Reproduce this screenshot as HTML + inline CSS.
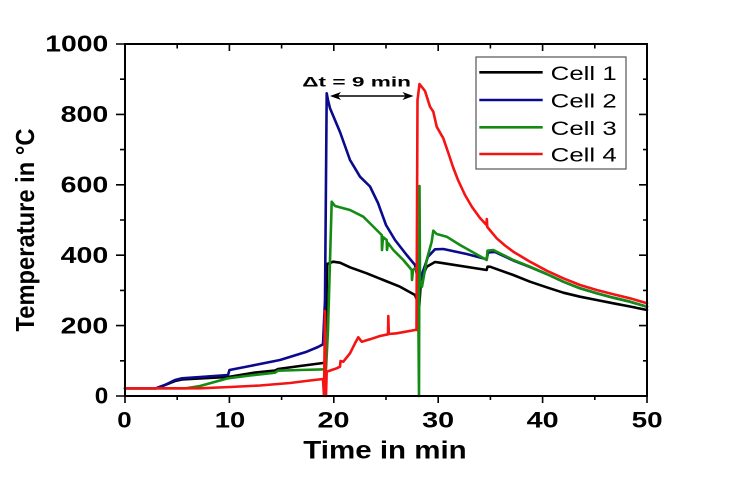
<!DOCTYPE html>
<html><head><meta charset="utf-8"><style>
html,body{margin:0;padding:0;background:#fff;}
svg{display:block;}
text{font-family:"Liberation Sans",Arial,sans-serif;}
</style></head><body>
<svg width="741" height="486" viewBox="0 0 741 486" xmlns="http://www.w3.org/2000/svg">
<rect width="741" height="486" fill="#fff"/>
<!-- series -->
<g fill="none" stroke-width="2.6" stroke-linejoin="round" stroke-linecap="round">
<path stroke="#000000" d="M125,388.3 L156,388.3 L165,385 L175,381 L182,379.5 L200,378.5 L228,377 L255,372.5 L275,370.5 L278,369 L300,366 L323,363 L325,363 L326,340 L327,264 L330,263 L333,261.7 L340,262.7 L350,267.3 L366.7,273.3 L383.3,280 L400,286.7 L415,295 L417,300 L419,310 L421,280 L426.7,266.7 L435,262 L440,262.7 L486.7,270 L487.5,266.7 L490,266.7 L513.3,275 L530,281.7 L546.7,287.3 L563.3,292.7 L580,296.7 L596.7,300 L613.3,303.3 L630,306.5 L647,310"/>
<path stroke="#0a0a8c" d="M125,388.3 L156,388.3 L165,385 L175,380 L182,378.3 L200,377 L228,375 L229.5,370 L250,366 L280,360 L306.7,351.7 L318,347 L323,344.3 L325,300 L326.7,93.3 L328,100 L330,108.3 L340,132 L350,160 L355,168.3 L360,176.7 L370,186.5 L378,203 L386,225 L395,240 L406.7,255 L415,265 L417,275 L419,290 L421.7,275 L428,256.7 L435,249.3 L443.3,249 L466.7,254 L486.7,259.3 L488,252.5 L495,252 L513.3,260.5 L530,267 L546.7,274 L563.3,281.7 L580,288.3 L596.7,293.3 L613.3,297.7 L630,301.7 L647,306.7"/>
<path stroke="#148c14" d="M125,388.3 L186,388.3 L200,386 L228,378.3 L250,375.5 L275,372.7 L278,370.7 L300,370 L326,369.3 L328,330 L331.7,201.7 L335,206 L350,210 L363.3,216.7 L371.7,225 L381.7,235 L382,250 L383,237 L386.7,240 L387,250 L388,243 L393.3,250 L403.3,260 L411.7,270 L412,280 L413,270 L415,268.3 L418,272 L419,396 L419.5,186 L420,280 L422,286.7 L426.7,260 L431.7,241.7 L433.3,230.7 L436.7,234 L446.7,236.7 L460,245 L486.7,260 L487.5,250.7 L493.3,250 L513.3,260 L530,266.7 L546.7,274 L563.3,281.7 L580,288.3 L596.7,293.3 L613.3,297.7 L630,301.7 L647,306.7"/>
<path stroke="#f41414" d="M125,388.3 L200,388.3 L230,387 L260,385.5 L290,383 L310,380.5 L323,379 L324,396 L325,311 L326,396 L326.7,371.7 L331.7,370 L336.7,368.3 L340,366.7 L340.5,361 L343.3,361.7 L350,353.3 L355,343.3 L358.3,337.3 L361.7,341.7 L370,339.3 L380,336 L388,334.3 L388.3,316 L388.8,334 L396.7,333.3 L415,330 L416.5,330 L417.5,100 L419.5,84 L425,91 L430,106.7 L433.3,111.7 L436.7,126.7 L443.3,138.3 L448,152 L453,167 L458,180 L465,195 L472,207 L480,218 L486.5,225 L486.8,219 L487.3,227 L496.7,238.3 L505,245.5 L513.3,251.7 L530,261.7 L546.7,270.7 L563.3,278.3 L580,285 L596.7,290 L613.3,294.3 L630,298.3 L647,303.3"/>
</g>
<!-- frame -->
<rect x="125" y="44" width="522" height="352" fill="none" stroke="#000" stroke-width="2"/>
<g stroke="#000" stroke-width="1.6">
<path d="M125,396V403 M229.4,396V403 M333.8,396V403 M438.2,396V403 M542.6,396V403 M647,396V403 M177.2,396V400 M281.6,396V400 M386,396V400 M490.4,396V400 M594.8,396V400"/>
<path d="M229.4,44V51 M333.8,44V51 M438.2,44V51 M542.6,44V51 M177.2,44V48.5 M281.6,44V48.5 M386,44V48.5 M490.4,44V48.5 M594.8,44V48.5"/>
<path d="M116,44H125 M116,114.4H125 M116,184.8H125 M116,255.2H125 M116,325.6H125 M116,396H125 M120,79.2H125 M120,149.6H125 M120,220H125 M120,290.4H125 M120,360.8H125"/>
<path d="M639,114.4H647 M639,184.8H647 M639,255.2H647 M639,325.6H647 M643,79.2H647 M643,149.6H647 M643,220H647 M643,290.4H647 M643,360.8H647"/>
</g>
<!-- y tick labels -->
<g font-size="23" font-weight="bold" text-anchor="end" fill="#000">
<text x="108.3" y="51.7" textLength="63" lengthAdjust="spacingAndGlyphs">1000</text>
<text x="108.3" y="122.1" textLength="47.6" lengthAdjust="spacingAndGlyphs">800</text>
<text x="108.3" y="192.5" textLength="47.6" lengthAdjust="spacingAndGlyphs">600</text>
<text x="108.3" y="262.9" textLength="47.6" lengthAdjust="spacingAndGlyphs">400</text>
<text x="108.3" y="333.3" textLength="47.6" lengthAdjust="spacingAndGlyphs">200</text>
<text x="108.3" y="403.7" textLength="13.5" lengthAdjust="spacingAndGlyphs">0</text>
</g>
<!-- x tick labels -->
<g font-size="22" font-weight="bold" text-anchor="middle" fill="#000">
<text x="124.5" y="427.3" textLength="14.4" lengthAdjust="spacingAndGlyphs">0</text>
<text x="230" y="427.3" textLength="30.5" lengthAdjust="spacingAndGlyphs">10</text>
<text x="333.5" y="427.3" textLength="32" lengthAdjust="spacingAndGlyphs">20</text>
<text x="438.2" y="427.3" textLength="32" lengthAdjust="spacingAndGlyphs">30</text>
<text x="542.6" y="427.3" textLength="32" lengthAdjust="spacingAndGlyphs">40</text>
<text x="647.2" y="427.3" textLength="31" lengthAdjust="spacingAndGlyphs">50</text>
</g>
<!-- axis titles -->
<text x="303.3" y="458.3" font-size="25" font-weight="bold" textLength="163.4" lengthAdjust="spacingAndGlyphs">Time in min</text>
<text transform="translate(34,230) rotate(-90)" x="0" y="0" font-size="26" font-weight="bold" text-anchor="middle" textLength="203" lengthAdjust="spacingAndGlyphs">Temperature in °C</text>
<!-- annotation -->
<text x="302.3" y="86.7" font-size="14" font-weight="bold" textLength="108.7" lengthAdjust="spacingAndGlyphs">Δt = 9 min</text>
<line x1="332" y1="96" x2="411" y2="96" stroke="#000" stroke-width="1.5"/>
<polygon points="330,96 341,92 338,96 341,100" fill="#000"/>
<polygon points="413.5,96 402.5,92 405.5,96 402.5,100" fill="#000"/>
<!-- legend -->
<rect x="476" y="57" width="150" height="112" fill="#fff" stroke="#555" stroke-width="1.2"/>
<g stroke-width="2.6">
<line x1="479.3" y1="72.3" x2="542.7" y2="72.3" stroke="#000"/>
<line x1="479.3" y1="100" x2="542.7" y2="100" stroke="#0a0a8c"/>
<line x1="479.3" y1="127.3" x2="542.7" y2="127.3" stroke="#148c14"/>
<line x1="479.3" y1="154" x2="542.7" y2="154" stroke="#f41414"/>
</g>
<g font-size="19.5" fill="#000">
<text x="550.7" y="80" textLength="66" lengthAdjust="spacingAndGlyphs">Cell 1</text>
<text x="550.7" y="107.7" textLength="66" lengthAdjust="spacingAndGlyphs">Cell 2</text>
<text x="550.7" y="135" textLength="66" lengthAdjust="spacingAndGlyphs">Cell 3</text>
<text x="550.7" y="161.7" textLength="66" lengthAdjust="spacingAndGlyphs">Cell 4</text>
</g>
</svg>
</body></html>
